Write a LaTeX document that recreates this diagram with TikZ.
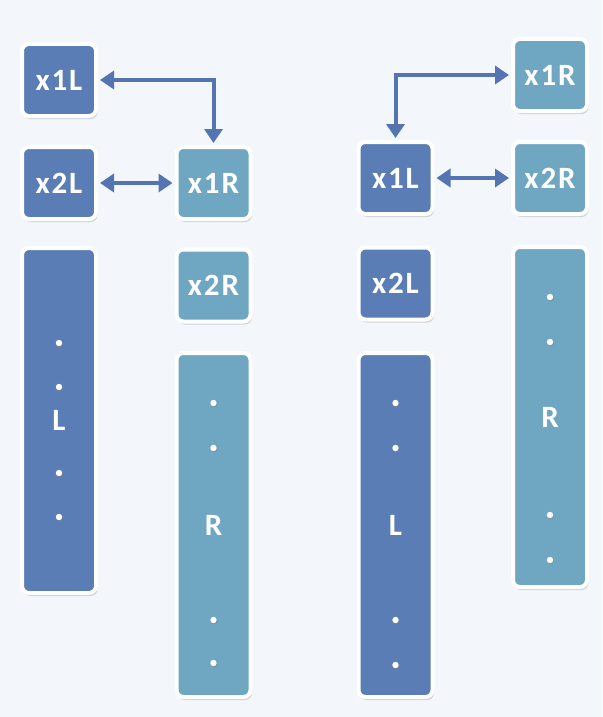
\documentclass[tikz,border=0pt]{standalone}
\usepackage{fontspec}
\setsansfont{Carlito}
\usetikzlibrary{arrows.meta,shadows}
\definecolor{bgcol}{HTML}{F3F6FA}
\definecolor{lblue}{HTML}{5B7DB6}
\definecolor{rteal}{HTML}{6FA7C2}
\definecolor{linkcol}{HTML}{5475B2}
\tikzset{
  blockbase/.style={rectangle, rounded corners=7pt, draw=white, line width=4pt,
    inner sep=0pt, text=white,
    font=\sffamily\bfseries\fontsize{31}{34}\selectfont\addfontfeatures{LetterSpace=6},
    drop shadow={opacity=0.3, shadow xshift=1.5pt, shadow yshift=-3pt}},
  lbox/.style={blockbase, fill=lblue, minimum width=74pt, minimum height=72pt},
  rbox/.style={blockbase, fill=rteal, minimum width=74pt, minimum height=72pt},
  lbar/.style={lbox, minimum height=#1},
  rbar/.style={rbox, minimum height=#1},
  link/.style={linkcol, line width=4pt, {Triangle[length=14pt,width=18pt]}-{Triangle[length=14pt,width=18pt]}, shorten <=2pt, shorten >=2pt},
  dotpt/.style={fill=white, drop shadow={opacity=0.45, shadow xshift=0.8pt, shadow yshift=-1.2pt}}
}
\begin{document}
\begin{tikzpicture}[x=1pt,y=-1pt]
    % Hintergrund
    \fill[bgcol] (0,0) rectangle (602,717);
    \useasboundingbox (0,0) rectangle (602,717);
    % linke Gruppe
    \node[lbox] (a1L) at (59,80) {x1L};
    \node[lbox] (a2L) at (59,183) {x2L};
    \node[rbox] (a1R) at (213.5,183) {x1R};
    \node[rbox] (a2R) at (213.5,285.5) {x2R};
    \node[lbar=345pt] (aL) at (59,420.5) {L};
    \node[rbar=344pt] (aR) at (213.5,525) {R};
    \draw[link] (a1L.east) -| (a1R.north);
    \draw[link] (a2L.east) -- (a1R.west);
    % rechte Gruppe
    \node[rbox] (b1R) at (550,75) {x1R};
    \node[lbox] (b1L) at (395.5,178) {x1L};
    \node[rbox] (b2R) at (550,178) {x2R};
    \node[lbox] (b2L) at (395.5,283.5) {x2L};
    \node[lbar=344pt] (bL) at (395.5,525) {L};
    \node[rbar=340pt] (bR) at (550,417) {R};
    \draw[link] (b1R.west) -| (b1L.north);
    \draw[link] (b1L.east) -- (b2R.west);
    % Punkte
    \foreach \x/\y in {59/343, 59/387, 59/473, 59/517,
                       213.5/403, 213.5/448, 213.5/620, 213.5/663,
                       395.5/403, 395.5/448, 395.5/620, 395.5/665,
                       550/297, 550/342, 550/515, 550/560}
        \fill[dotpt] (\x,\y) circle (3.2pt);
\end{tikzpicture}
\end{document}
